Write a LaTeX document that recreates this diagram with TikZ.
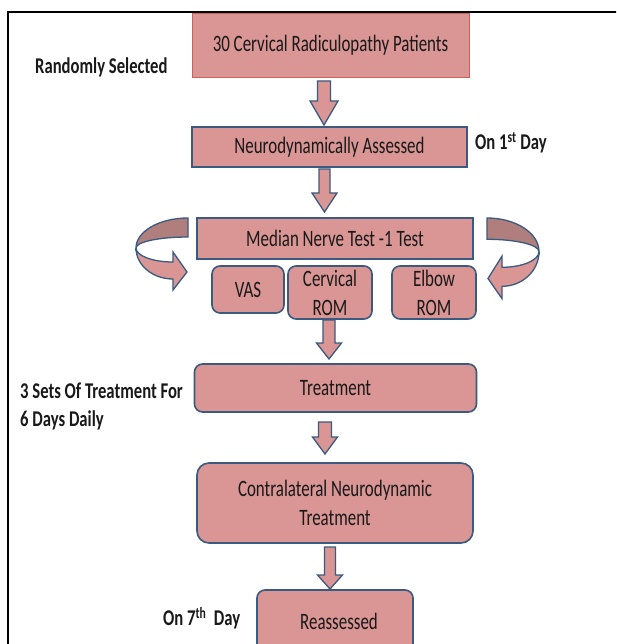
\documentclass[tikz,border=0pt]{standalone}
\usepackage{fontspec}
\setmainfont{Carlito}[FakeStretch=0.72]
\newfontfamily\lblfont{Carlito}[FakeStretch=0.74]
\definecolor{pinkfill}{HTML}{D99694}
\definecolor{blueedge}{HTML}{3A5A80}
\definecolor{redge}{HTML}{C8605D}
\definecolor{darkband}{HTML}{B07E7C}
\newcommand\dnarrow[6]{%
  \draw[barrow] (#1-#5,#2) -- (#1+#5,#2) -- (#1+#5,#3) -- (#1+#6,#3) -- (#1,#4) -- (#1-#6,#3) -- (#1-#5,#3) -- cycle;}
\newcommand\curvarrow{%
  \draw[barrow, fill=darkband] (0,0) arc[start angle=-90,end angle=-180,x radius=52,y radius=30]
     arc[start angle=180,end angle=270,x radius=52,y radius=11] -- cycle;
  \draw[barrow] (-52,30) arc[start angle=180,end angle=90,x radius=37,y radius=31]
     -- (-15,72) -- (-1,54) -- (-15,34) -- (-15,44)
     arc[start angle=90,end angle=180,x radius=37,y radius=14] -- cycle;}
\begin{document}
\begin{tikzpicture}[x=1pt,y=-1pt,
  box/.style={draw=blueedge, line width=1.6pt, fill=pinkfill, inner sep=0pt, align=center,
    text=black!90, font=\fontsize{23.5}{29}\selectfont},
  rbox/.style={box, rounded corners=8pt},
  lbl/.style={font=\lblfont\bfseries\fontsize{22.5}{28}\selectfont, align=left, inner sep=0pt, text=black!90},
  barrow/.style={draw=blueedge, line width=1.3pt, fill=pinkfill, line join=miter}]
\useasboundingbox (0,0) rectangle (616,644);
\clip (0,0) rectangle (616,644);
\fill[white] (0,0) rectangle (616,644);
\draw[line width=2pt] (8,650) -- (8,12) -- (620,12);

\node[box, draw=redge, line width=0.8pt, minimum width=277pt, minimum height=64pt] (b1) at (330.5,45) {30 Cervical Radiculopathy Patients};
\node[box, minimum width=275pt, minimum height=40pt] (b2) at (329.5,147) {Neurodynamically Assessed};
\node[box, minimum width=276pt, minimum height=41pt] (b3) at (335,238.5) {Median Nerve Test -1 Test};
\node[rbox, minimum width=72pt, minimum height=47pt] (vas) at (248,289.5) {VAS};
\node[rbox, minimum width=84pt, minimum height=53pt] (cerv) at (330,292.5) {Cervical\\ROM};
\node[rbox, minimum width=84pt, minimum height=53pt] (elbow) at (434,292.5) {Elbow\\ROM};
\node[rbox, minimum width=282pt, minimum height=48pt] (treat) at (335.5,388) {Treatment};
\node[rbox, rounded corners=12pt, minimum width=276pt, minimum height=80pt] (contra) at (335,503) {Contralateral Neurodynamic\\Treatment};
\node[rbox, minimum width=156pt, minimum height=70pt] (reass) at (335,625) {\raisebox{7pt}{\hspace{8pt}Reassessed}};

\node[lbl, anchor=west] (rs) at (35,67) {Randomly Selected};
\node[lbl, anchor=west] (d1) at (475,143) {On 1\textsuperscript{st} Day};
\node[lbl, anchor=west] (sets) at (20,406) {3 Sets Of Treatment For\\6 Days Daily};
\node[lbl, anchor=west] (d7) at (163,618) {On 7\textsuperscript{th}\ \ Day};

\dnarrow{324}{81}{101}{125}{6.5}{14}
\dnarrow{324.5}{169}{193}{212}{5.5}{12.5}
\dnarrow{329}{320}{343}{359}{6}{12.5}
\dnarrow{325}{422}{437}{454}{6.5}{12.5}
\dnarrow{330}{547}{575}{589}{5.5}{12.5}

\begin{scope}[shift={(188,218)}]\curvarrow\end{scope}
\begin{scope}[shift={(487,218)}, xscale=-1, yscale=1.12]\curvarrow\end{scope}
\end{tikzpicture}
\end{document}
